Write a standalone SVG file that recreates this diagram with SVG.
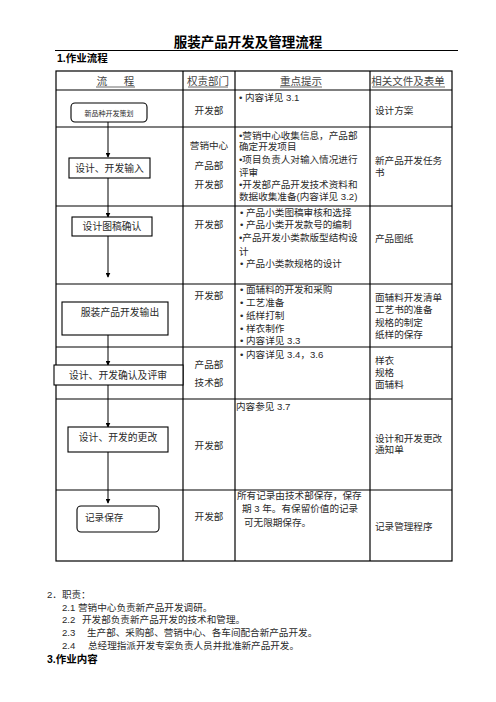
<svg xmlns="http://www.w3.org/2000/svg" width="496" height="702" viewBox="0 0 496 702">
<defs>
<style>
text{font-family:"Liberation Sans","Noto Sans CJK SC",sans-serif;fill:#2a2a2a;}
.t{font-size:13.5px;font-weight:bold;fill:#000;}
.h1{font-size:10.5px;font-weight:bold;fill:#000;}
.hd{font-size:10.5px;fill:#444;text-anchor:middle;}
.b{font-size:9.6px;}
.c{font-size:9.6px;text-anchor:middle;}
.n{font-size:9.8px;text-anchor:middle;}
.grid{stroke:#000;stroke-width:1.2;fill:none;}
.box{fill:#fff;stroke:#000;stroke-width:1.1;}
.ul{stroke:#444;stroke-width:0.8;}
.arr{stroke:#000;stroke-width:1;fill:none;marker-end:url(#ah);}
</style>
<marker id="ah" viewBox="0 0 8 8" refX="7" refY="4" markerWidth="5" markerHeight="5" orient="auto" markerUnits="userSpaceOnUse">
<path d="M0,0 L8,4 L0,8 z" fill="#000"/>
</marker>
</defs>
<rect width="496" height="702" fill="#fff"/>

<text class="t" x="248" y="47" text-anchor="middle">服装产品开发及管理流程</text>
<line x1="55" y1="50.5" x2="458" y2="50.5" stroke="#000" stroke-width="1"/>
<text class="h1" x="57" y="62">1.作业流程</text>

<g id="table">
<rect class="grid" x="56" y="71" width="396" height="490"/>
<line class="grid" x1="183" y1="71" x2="183" y2="561"/>
<line class="grid" x1="235" y1="71" x2="235" y2="561"/>
<line class="grid" x1="370" y1="71" x2="370" y2="561"/>
<line class="grid" x1="56" y1="90" x2="452" y2="90"/>
<line class="grid" x1="56" y1="127" x2="452" y2="127"/>
<line class="grid" x1="56" y1="206" x2="452" y2="206"/>
<line class="grid" x1="56" y1="284" x2="452" y2="284"/>
<line class="grid" x1="56" y1="347" x2="452" y2="347"/>
<line class="grid" x1="56" y1="399" x2="452" y2="399"/>
<line class="grid" x1="56" y1="490" x2="452" y2="490"/>
</g>

<g id="header">
<text class="hd" x="102" y="84.5">流</text>
<text class="hd" x="129" y="84.5">程</text>
<line class="ul" x1="96" y1="87" x2="135" y2="87"/>
<text class="hd" x="208" y="84.5">权责部门</text>
<line class="ul" x1="188" y1="87" x2="228" y2="87"/>
<text class="hd" x="301" y="84.5">重点提示</text>
<line class="ul" x1="280" y1="87" x2="322" y2="87"/>
<text class="hd" x="408" y="84.5">相关文件及表单</text>
<line class="ul" x1="372" y1="87" x2="445" y2="87"/>
</g>

<g id="connectors">
<line class="arr" x1="108" y1="122" x2="108" y2="157"/>
<line class="arr" x1="108" y1="178" x2="108" y2="217"/>
<line class="arr" x1="108" y1="236" x2="108" y2="277"/>
<line class="arr" x1="108" y1="335" x2="108" y2="365"/>
<line class="arr" x1="108" y1="385" x2="108" y2="427"/>
<line class="arr" x1="108" y1="452" x2="108" y2="503"/>
</g>

<g id="node1">
<rect class="box" x="71" y="103" width="76" height="19" rx="4"/>
<text x="109" y="115.5" font-size="7" text-anchor="middle">新品种开发策划</text>
</g>
<g id="node2">
<rect class="box" x="69" y="158" width="81" height="20"/>
<text class="n" x="109.5" y="171.5">设计、开发输入</text>
</g>
<g id="node3">
<rect class="box" x="72" y="217" width="80" height="19"/>
<text class="n" x="112" y="230">设计图稿确认</text>
</g>
<g id="node4">
<rect class="box" x="62" y="302" width="106" height="33"/>
<text class="n" x="120" y="316">服装产品开发输出</text>
</g>
<g id="node5">
<rect class="box" x="54" y="365" width="129" height="20"/>
<text class="n" x="118" y="378.5">设计、开发确认及评审</text>
</g>
<g id="node6">
<rect class="box" x="68" y="427" width="100" height="25"/>
<text class="n" x="118" y="441">设计、开发的更改</text>
</g>
<g id="node7">
<rect class="box" x="77" y="506" width="82" height="26" rx="4"/>
<text class="b" x="85" y="521">记录保存</text>
</g>

<g id="col2">
<text class="c" x="209" y="113.5">开发部</text>
<text class="c" x="209" y="148.5">营销中心</text>
<text class="c" x="209" y="168.5">产品部</text>
<text class="c" x="209" y="187.5">开发部</text>
<text class="c" x="209" y="227.5">开发部</text>
<text class="c" x="209" y="298.5">开发部</text>
<text class="c" x="209" y="367.5">产品部</text>
<text class="c" x="209" y="385.5">技术部</text>
<text class="c" x="209" y="448.5">开发部</text>
<text class="c" x="209" y="519.5">开发部</text>
</g>

<g id="col3">
<text class="b" x="239" y="101">• 内容详见 3.1</text>
<text class="b" x="239" y="138.5">•营销中心收集信息，产品部</text>
<text class="b" x="239" y="150">确定开发项目</text>
<text class="b" x="239" y="162.5">•项目负责人对输入情况进行</text>
<text class="b" x="239" y="175.5">评审</text>
<text class="b" x="239" y="188">•开发部产品开发技术资料和</text>
<text class="b" x="239" y="200">数据收集准备(内容详见 3.2)</text>
<text class="b" x="240" y="215.5">• 产品小类图稿审核和选择</text>
<text class="b" x="240" y="227.5">• 产品小类开发款号的编制</text>
<text class="b" x="239" y="240.5">•产品开发小类款版型结构设</text>
<text class="b" x="239" y="254.5">计</text>
<text class="b" x="240" y="266.5">• 产品小类款规格的设计</text>
<text class="b" x="240" y="292.5">• 面辅料的开发和采购</text>
<text class="b" x="240" y="305.5">• 工艺准备</text>
<text class="b" x="240" y="319">• 纸样打制</text>
<text class="b" x="240" y="331.5">• 样衣制作</text>
<text class="b" x="240" y="343.5">• 内容详见 3.3</text>
<text class="b" x="240" y="358">• 内容详见 3.4，3.6</text>
<text class="b" x="236" y="409.5">内容参见 3.7</text>
<text class="b" x="237" y="498.5">所有记录由技术部保存，保存</text>
<text class="b" x="242" y="512">期 3 年。有保留价值的记录</text>
<text class="b" x="244" y="525.5">可无限期保存。</text>
</g>

<g id="col4">
<text class="b" x="375" y="113.5">设计方案</text>
<text class="b" x="375" y="163.5">新产品开发任务</text>
<text class="b" x="375" y="176">书</text>
<text class="b" x="375" y="241.5">产品图纸</text>
<text class="b" x="375" y="300.5">面辅料开发清单</text>
<text class="b" x="375" y="312.5">工艺书的准备</text>
<text class="b" x="375" y="325.5">规格的制定</text>
<text class="b" x="375" y="337.5">纸样的保存</text>
<text class="b" x="375" y="363.5">样衣</text>
<text class="b" x="375" y="375.5">规格</text>
<text class="b" x="375" y="387.5">面辅料</text>
<text class="b" x="375" y="441.5">设计和开发更改</text>
<text class="b" x="375" y="453">通知单</text>
<text class="b" x="375" y="529.5">记录管理程序</text>
</g>

<g id="section2">
<text class="b" x="47" y="597.5">2．职责：</text>
<text class="b" x="62" y="610.5">2.1 营销中心负责新产品开发调研。</text>
<text class="b" x="62" y="622.5">2.2 <tspan x="82">开发部负责新产品开发的技术和管理。</tspan></text>
<text class="b" x="62" y="636">2.3 <tspan x="87">生产部、采购部、营销中心、各车间配合新产品开发。</tspan></text>
<text class="b" x="62" y="648.5">2.4 <tspan x="88">总经理指派开发专案负责人员并批准新产品开发。</tspan></text>
<text class="h1" x="47" y="662.5">3.作业内容</text>
</g>
</svg>
